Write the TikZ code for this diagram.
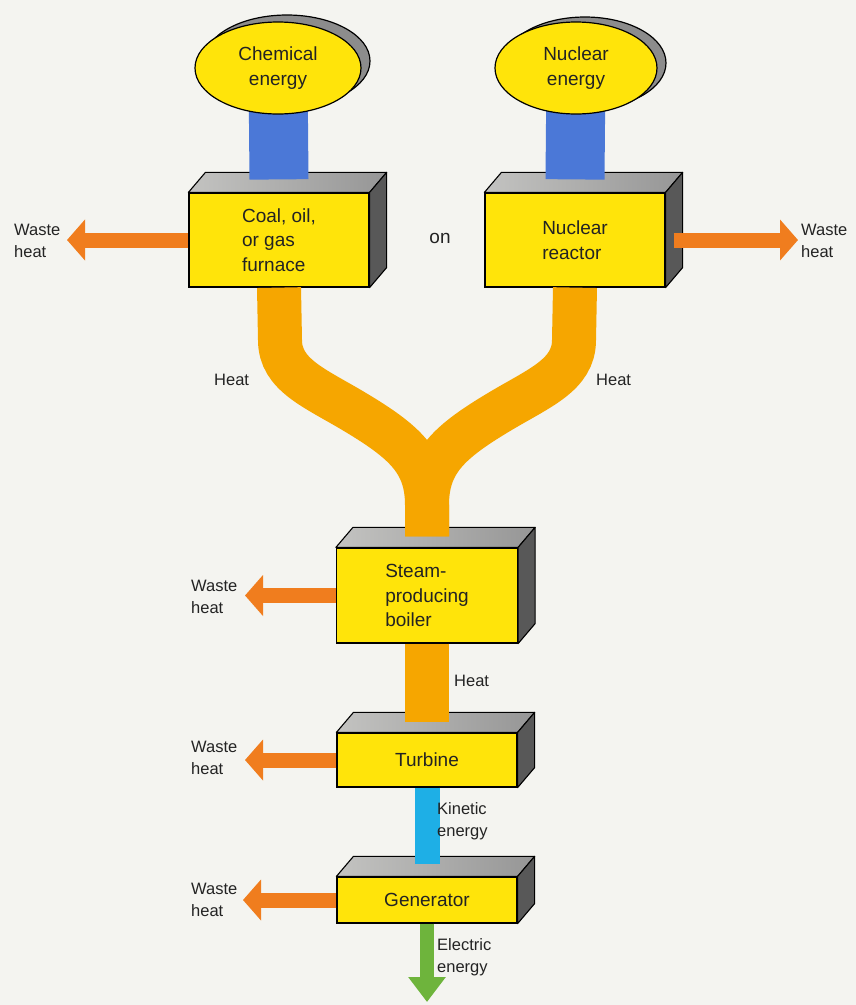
\documentclass[tikz,border=0pt]{standalone}
\usepackage{fontspec}
\setmainfont{Liberation Sans}
\usetikzlibrary{arrows.meta,shapes.geometric}
\definecolor{bgcol}{RGB}{244,244,240}
\definecolor{boxyellow}{RGB}{255,228,10}
\definecolor{topgrayA}{RGB}{195,195,193}
\definecolor{topgrayB}{RGB}{150,150,150}
\definecolor{sidegray}{RGB}{88,88,88}
\definecolor{shadowgray}{RGB}{140,140,140}
\definecolor{wasteorange}{RGB}{240,125,30}
\definecolor{heatamber}{RGB}{246,166,0}
\definecolor{barblue}{RGB}{75,120,215}
\definecolor{kinblue}{RGB}{30,175,230}
\definecolor{elecgreen}{RGB}{110,180,60}
\definecolor{textcol}{RGB}{35,35,35}
\newcommand\boxfont{\fontsize{19}{24.5}\selectfont}
\newcommand\lblfont{\fontsize{16.5}{21.5}\selectfont}
\newcommand\boxfaces[1]{%
  \path[topface] (#1.north west) -- ++(17pt,20pt) -- ([shift={(17pt,20pt)}]#1.north east) -- (#1.north east) -- cycle;
  \path[sideface] (#1.north east) -- ++(17pt,20pt) -- ([shift={(17pt,20pt)}]#1.south east) -- (#1.south east) -- cycle;}
\begin{document}
\begin{tikzpicture}[x=1pt,y=-1pt,
  frontbox/.style={draw=black, line width=1.2pt, fill=boxyellow, minimum width=180pt,
    inner sep=0pt, font=\boxfont, align=left, text=textcol},
  topface/.style={draw=black, line width=1.1pt, left color=topgrayA, right color=topgrayB, line join=round},
  sideface/.style={draw=black, line width=1.1pt, fill=sidegray, line join=round},
  ell/.style={ellipse, draw=black, line width=1.2pt, fill=boxyellow, inner sep=0pt,
    minimum height=92pt, font=\boxfont, align=center, text=textcol},
  shadowell/.style={ellipse, draw=black, line width=1.2pt, fill=shadowgray, inner sep=0pt, minimum height=92pt},
  heat/.style={draw=heatamber, line width=44pt},
  bar/.style={draw=barblue, line width=59pt},
  kin/.style={draw=kinblue, line width=25pt},
  elec/.style={draw=elecgreen, line width=14pt, -{Triangle[width=36pt,length=25pt]}},
  waste/.style={draw=wasteorange, line width=15pt, -{Triangle[width=40pt,length=18pt]}},
  lbl/.style={inner sep=1pt, align=left, font=\lblfont, text=textcol, anchor=west}]
\fill[bgcol] (0,0) rectangle (856,1005);
\useasboundingbox (0,0) rectangle (856,1005);
% energy sources (positions)
\coordinate (chemc) at (278,68);
\coordinate (nucc) at (576,68);
\node[shadowell, minimum width=166pt] (chemsh) at ([shift={(9pt,7pt)}]chemc) {};
\node[shadowell, minimum width=162pt] (nucsh) at ([shift={(9pt,5pt)}]nucc) {};
% boxes
\node[frontbox, minimum height=94pt] (furn) at (279,240) {Coal, oil,\\or gas\\furnace};
\boxfaces{furn}
\node[frontbox, minimum height=94pt] (reac) at (575,240) {Nuclear\\reactor};
\boxfaces{reac}
\node[frontbox, minimum width=181pt, minimum height=95pt] (boil) at (427,595.5) {Steam-\\producing\\boiler};
\boxfaces{boil}
\node[frontbox, minimum height=54pt] (turb) at (427,760) {Turbine};
\boxfaces{turb}
\node[frontbox, minimum height=46pt] (gen) at (427,900) {Generator};
\boxfaces{gen}
% inlet coordinates
\coordinate (furnin) at ([yshift=13pt]furn.north);
\coordinate (reacin) at ([yshift=13pt]reac.north);
\coordinate (boilin) at ([yshift=11pt]boil.north);
\coordinate (turbin) at ([yshift=10pt]turb.north);
\coordinate (genin) at ([yshift=12pt]gen.north);
\coordinate (elecend) at (427,1002);
% heat streams
\draw[heat] (furn.south) -- (280,340) .. controls (280,375) and (315,388) .. (355,412)
  .. controls (405,442) and (427,462) .. (427,505) -- (boilin);
\draw[heat] (reac.south) -- (574,340) .. controls (574,375) and (539,388) .. (499,412)
  .. controls (449,442) and (427,462) .. (427,505) -- (boilin);
\draw[heat] (boil.south) -- (turbin);
\draw[kin] (turb.south) -- (genin);
\draw[elec] (gen.south) -- (elecend);
% blue bars
\draw[bar] (chemc) -- (furnin);
\draw[bar] (nucc) -- (reacin);
% ellipses
\node[ell, minimum width=166pt] (chem) at (chemc) {Chemical\\energy};
\node[ell, minimum width=162pt] (nuc) at (nucc) {Nuclear\\energy};
% waste heat arrows
\coordinate (w1) at (67,240);
\coordinate (w2) at (798,240);
\coordinate (w3) at (245,595.5);
\coordinate (w4) at (245,760);
\coordinate (w5) at (243,900);
\draw[waste] (furn.west) -- (w1);
\draw[waste] ([xshift=8pt]reac.east) -- (w2);
\draw[waste] (boil.west) -- (w3);
\draw[waste] (turb.west) -- (w4);
\draw[waste] (gen.west) -- (w5);
% labels
\node[inner sep=0pt, font=\boxfont, text=textcol] (or) at (440,238) {on};
\node[lbl] (lw1) at (13,241) {Waste\\heat};
\node[lbl] (lw2) at (800,241) {Waste\\heat};
\node[lbl] (lh1) at (213,380) {Heat};
\node[lbl] (lh2) at (595,380) {Heat};
\node[lbl] (lw3) at (190,597) {Waste\\heat};
\node[lbl] (lh3) at (453,681) {Heat};
\node[lbl] (lw4) at (190,758) {Waste\\heat};
\node[lbl] (lk) at (436,821) {Kinetic\\energy};
\node[lbl] (lw5) at (190,900) {Waste\\heat};
\node[lbl] (le) at (436,957) {Electric\\energy};
\end{tikzpicture}
\end{document}
